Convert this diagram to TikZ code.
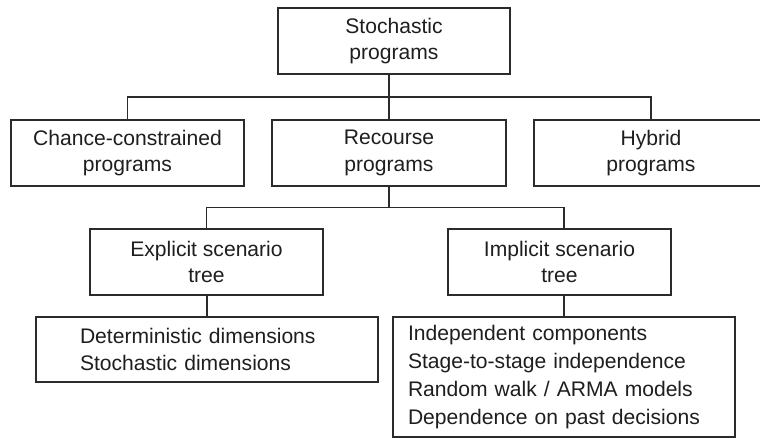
\documentclass[tikz,border=0pt]{standalone}
\usepackage{fontspec}
\setmainfont{Liberation Sans}
\usepackage{tikz}
\usetikzlibrary{positioning, calc}
\definecolor{LineGray}{HTML}{2B2B2B}
\definecolor{TextGray}{HTML}{1E1E1E}

\begin{document}
\begin{tikzpicture}[
    box/.style={draw=LineGray, line width=0.7pt, text=TextGray, align=center,
                minimum height=1.32cm, inner sep=0pt,
                font=\fontsize{12pt}{15.2pt}\selectfont},
    listbox/.style={box, align=left, text width=#1},
    link/.style={draw=LineGray, line width=0.7pt}
]
    \useasboundingbox (0,0) rectangle (15.2,-8.76);
    \clip (0,0) rectangle (15.2,-8.76);

    % Top level
    \node[box, minimum width=4.64cm] (stoch) at (7.88,-0.82) {Stochastic\\programs};

    % Program classes
    \node[box, minimum width=4.66cm] (chance) at (2.55,-3.06) {Chance-constrained\\programs};
    \node[box, minimum width=4.68cm] (recourse) at (7.78,-3.06) {Recourse\\programs};
    \node[box, minimum width=4.68cm] (hybrid) at (13.02,-3.06) {Hybrid\\programs};

    % Scenario trees
    \node[box, minimum width=4.66cm] (explicit) at (4.13,-5.24) {Explicit scenario\\tree};
    \node[box, minimum width=4.46cm] (implicit) at (11.19,-5.24) {Implicit scenario\\tree};

    % Features
    \node[listbox=5.08cm, minimum height=1.30cm, inner xsep=0.88cm] (explist) at (4.14,-6.99)
        {Deterministic dimensions\\Stochastic dimensions};
    \node[listbox=6.24cm, minimum height=2.40cm, inner xsep=0.30cm,
          font=\fontsize{12pt}{16.1pt}\selectfont] (implist) at (11.28,-7.54)
        {Independent components\\Stage-to-stage independence\\
         Random walk / ARMA models\\Dependence on past decisions};

    % Bus lines
    \coordinate (topbus) at ($(stoch.south -| recourse.north)!0.5!(recourse.north)$);
    \coordinate (lowbus) at ($(recourse.south)!0.5!(recourse.south |- explicit.north)$);

    % Connectors
    \draw[link] (recourse.north) -- (recourse.north |- stoch.south);
    \draw[link] (chance.north) |- (topbus) -| (hybrid.north);
    \draw[link] (recourse.south) -- (lowbus);
    \draw[link] (explicit.north) |- (lowbus) -| (implist.north |- implicit.north);
    \draw[link] (explist.north) -- (explist.north |- explicit.south);
    \draw[link] (implist.north) -- (implist.north |- implicit.south);
\end{tikzpicture}
\end{document}
